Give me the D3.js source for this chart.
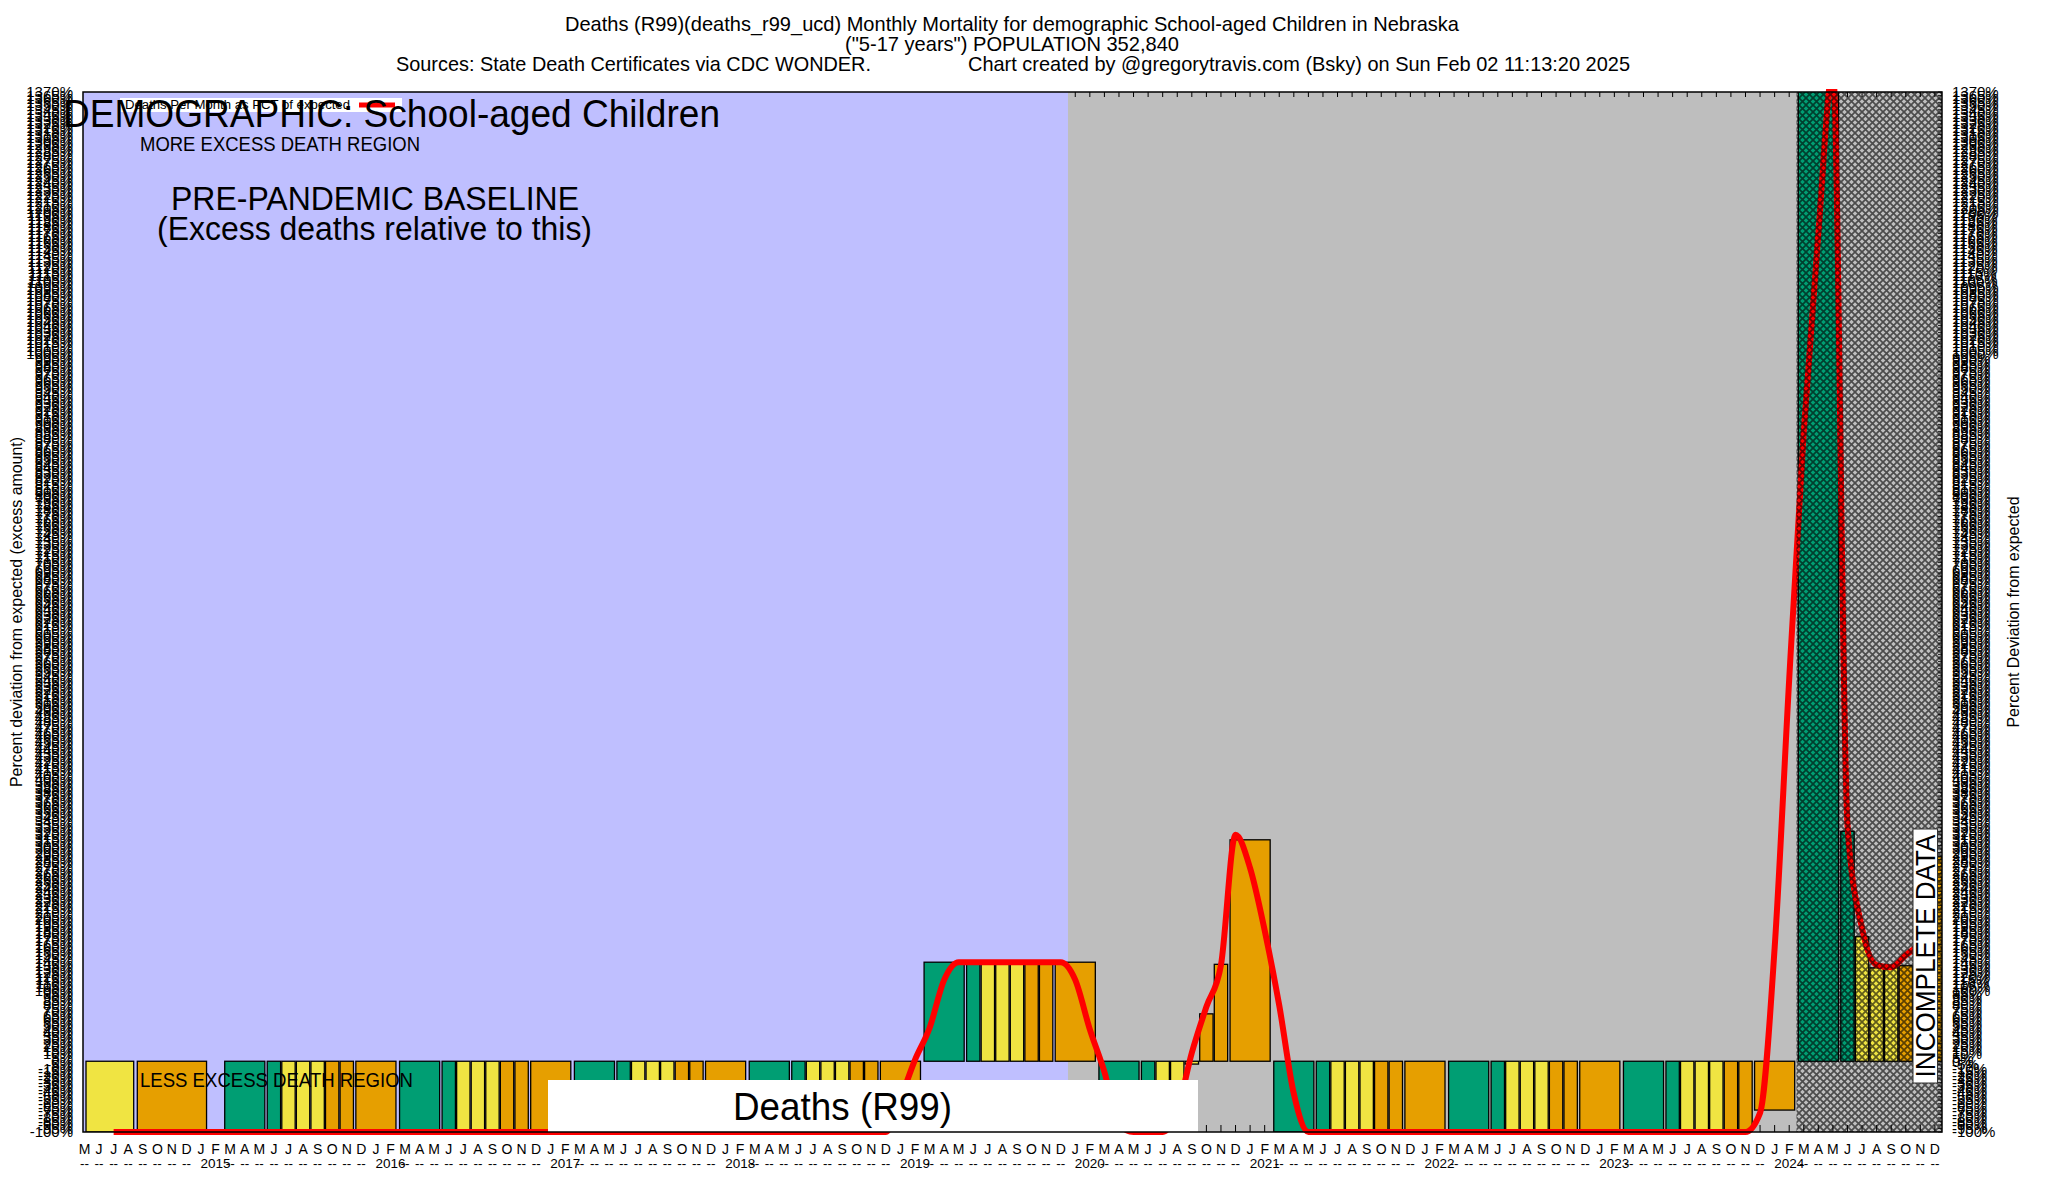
<!DOCTYPE html>
<html>
<head>
<meta charset="utf-8">
<script src="https://cdn.jsdelivr.net/npm/d3@7"></script>
<style>
  body { margin: 0; background: #ffffff; }
  svg { display: block; }
  text { font-family: "Liberation Sans", Arial, Helvetica, sans-serif; fill: #000; }
</style>
</head>
<body>
<svg id="chart" width="2048" height="1200"></svg>
<script>
// ---------------- DATA ----------------
const titleLines = [
  "Deaths (R99)(deaths_r99_ucd) Monthly Mortality for demographic School-aged Children in Nebraska",
  "(\"5-17 years\") POPULATION 352,840"
];
const sourceText = "Sources: State Death Certificates via CDC WONDER.";
const creditText = "Chart created by @gregorytravis.com (Bsky) on Sun Feb 02 11:13:20 2025";

// x categories: every month May 2014 .. Dec 2024
const firstMonth = "2014-05";
const lastMonth = "2024-12";
const monthLetters = ["J","F","M","A","M","J","J","A","S","O","N","D"];

// y ticks (percent deviation)
const yMin = -100, yMax = 1370, yStep = 5;

// Seasonal bar slots within a year (month numbers; 14 = February of next year)
const slotFrom   = [3, 6, 7, 8, 9, 10, 11, 12];
const slotTo     = [5, 6, 7, 8, 9, 10, 11, 14];
const slotSeason = ["spring","spring","summer","summer","summer","fall","fall","winter"];

const barYears = [2015, 2016, 2017, 2018, 2019, 2020, 2021, 2022, 2023, 2024];
const barValuesByYear = [
  [-100,-100,-100,-100,-100,-100,-100,-100], // 2015
  [-100,-100,-100,-100,-100,-100,-100,-100], // 2016
  [-100,-100,-100,-100,-100,-100,-100,-100], // 2017
  [-100,-100,-100,-100,-100,-100,-100,-100], // 2018
  [140, 140, 140, 140, 140, 140, 140, 140],  // 2019
  [-100,-100,-100,-100, -4,  67, 137, 313],  // 2020
  [-100,-100,-100,-100,-100,-100,-100,-100], // 2021
  [-100,-100,-100,-100,-100,-100,-100,-100], // 2022
  [-100,-100,-100,-100,-100,-100,-100, -69], // 2023
  [1450, 325, 176, 132, 132, 135, 135, 289]  // 2024
];
// first partial season (2014)
const earlyBarFrom   = ["2014-05", "2014-09"];
const earlyBarTo     = ["2014-08", "2015-01"];
const earlyBarValue  = [-100, -100];
const earlyBarSeason = ["summer", "winter"];

// Deaths per month as PCT of expected (red line), monthly from Jul 2014
const lineStart = "2014-07";
const lineValues = [
  -100,-100,-100,-100,-100,-100,                              // 2014 Jul-Dec
  -100,-100,-100,-100,-100,-100,-100,-100,-100,-100,-100,-100, // 2015
  -100,-100,-100,-100,-100,-100,-100,-100,-100,-100,-100,-100, // 2016
  -100,-100,-100,-100,-100,-100,-100,-100,-100,-100,-100,-100, // 2017
  -100,-100,-100,-100,-100,-100,-100,-100,-100,-100,-100,-100, // 2018
  -53, 2, 47, 115, 140, 140, 140, 140, 140, 140, 140, 140,     // 2019
  115, 45, -15, -90, -100, -100, -100, -70, 12, 77, 136, 320,  // 2020
  273, 185, 79, -46, -100,-100,-100,-100,-100,-100,-100,-100,  // 2021
  -100,-100,-100,-100,-100,-100,-100,-100,-100,-100,-100,-100, // 2022
  -100,-100,-100,-100,-100,-100,-100,-100,-100,-100,-100, -73, // 2023
  160, 540, 890, 1170, 1400, 334, 188, 136, 133, 150, 165      // 2024 Jan-Nov
];

const incompleteFrom = "2024-03";
const baselineEnd = "2019-12";

// ---------------- LAYOUT / STYLE ----------------
const plot = { left: 83, right: 1942, top: 92, bottom: 1132 };
const seasonColor = { spring: "#009e73", summer: "#f0e442", fall: "#e69f00", winter: "#e69f00" };
const FONT = "\"Liberation Sans\", Arial, Helvetica, sans-serif";

function monthIndex(str) {
  const [yy, mm] = str.split("-").map(Number);
  return (yy - 2014) * 12 + (mm - 5);
}
const nMonths = monthIndex(lastMonth) + 1;

const x = d3.scaleLinear().domain([0, nMonths - 1]).range([84.5, 1934.9]);
const step = x(1) - x(0);
const y = d3.scaleLinear().domain([yMin, yMax]).range([plot.bottom, plot.top]);

const svg = d3.select("#chart");
const defs = svg.append("defs");
defs.append("clipPath").attr("id", "plotClip").append("rect")
  .attr("x", plot.left).attr("y", plot.top)
  .attr("width", plot.right - plot.left).attr("height", plot.bottom - plot.top);
defs.append("clipPath").attr("id", "lineClip").append("rect")
  .attr("x", plot.left).attr("y", plot.top - 3)
  .attr("width", plot.right - plot.left).attr("height", plot.bottom - plot.top + 12);
const pat = defs.append("pattern").attr("id", "hatch")
  .attr("patternUnits", "userSpaceOnUse").attr("width", 7).attr("height", 7);
pat.append("path").attr("d", "M-1,-1L8,8M8,-1L-1,8")
  .attr("stroke", "#000").attr("stroke-width", 1.7).attr("stroke-opacity", 0.6).attr("fill", "none");

// gray plot background
svg.append("rect").attr("x", plot.left).attr("y", plot.top)
  .attr("width", plot.right - plot.left).attr("height", plot.bottom - plot.top)
  .attr("fill", "#bebebe");

// month ticks (top & bottom, inward)
const monthIdx = d3.range(nMonths);
svg.append("g").selectAll("line.t").data(monthIdx).join("line")
  .attr("x1", d => x(d)).attr("x2", d => x(d))
  .attr("y1", plot.top).attr("y2", plot.top + 5)
  .attr("stroke", "#000").attr("stroke-width", 1);
svg.append("g").selectAll("line.b").data(monthIdx).join("line")
  .attr("x1", d => x(d)).attr("x2", d => x(d))
  .attr("y1", plot.bottom - 7).attr("y2", plot.bottom)
  .attr("stroke", "#000").attr("stroke-width", 1);

// pre-pandemic baseline region
const baseEndX = x(monthIndex(baselineEnd) + 0.5);
svg.append("rect").attr("x", plot.left).attr("y", plot.top)
  .attr("width", baseEndX - plot.left).attr("height", plot.bottom - plot.top)
  .attr("fill", "#bfbfff");

// bars
const bars = [];
earlyBarFrom.forEach((f, i) => bars.push({
  from: monthIndex(f), to: monthIndex(earlyBarTo[i]), value: earlyBarValue[i], season: earlyBarSeason[i]
}));
barYears.forEach((yr, yi) => {
  slotFrom.forEach((sf, si) => {
    bars.push({
      from: (yr - 2014) * 12 + (sf - 5),
      to: (yr - 2014) * 12 + (slotTo[si] - 5),
      value: barValuesByYear[yi][si],
      season: slotSeason[si]
    });
  });
});
function barX0(d) {
  const inset = d.from === d.to ? 0.6 : 1.8;
  return Math.max(x(d.from) - step / 2 + inset, plot.left + 3);
}
function barX1(d) {
  const inset = d.from === d.to ? 0.6 : 1.8;
  return x(d.to) + step / 2 - inset;
}
svg.append("g").attr("clip-path", "url(#plotClip)")
  .selectAll("rect").data(bars).join("rect")
  .attr("x", barX0)
  .attr("width", d => barX1(d) - barX0(d))
  .attr("y", d => Math.min(y(0), y(d.value)))
  .attr("height", d => Math.abs(y(d.value) - y(0)))
  .attr("fill", d => seasonColor[d.season])
  .attr("stroke", "#000").attr("stroke-width", 1.3);

// red line
const lineStartIdx = monthIndex(lineStart);
const linePts = lineValues.map((v, i) => [lineStartIdx + i, v]);
svg.append("path").attr("clip-path", "url(#lineClip)")
  .datum(linePts)
  .attr("d", d3.line().x(d => x(d[0])).y(d => y(d[1])).curve(d3.curveMonotoneX))
  .attr("fill", "none").attr("stroke", "#ff0000").attr("stroke-width", 6)
  .attr("stroke-linejoin", "round");

// incomplete data hatch
const incX = x(monthIndex(incompleteFrom) - 0.5);
svg.append("rect").attr("x", incX).attr("y", plot.top)
  .attr("width", plot.right - incX).attr("height", plot.bottom - plot.top)
  .attr("fill", "url(#hatch)");

// y ticks on right border (inward)
const yTicks = d3.range(yMin, yMax + 1, yStep);
svg.append("g").selectAll("line").data(yTicks).join("line")
  .attr("x1", plot.right - 4).attr("x2", plot.right)
  .attr("y1", d => y(d)).attr("y2", d => y(d))
  .attr("stroke", "#000").attr("stroke-width", 0.8);

// annotation texts inside plot
svg.append("text").attr("x", 140).attr("y", 151)
  .attr("font-size", 19.5).attr("textLength", 280).attr("lengthAdjust", "spacingAndGlyphs")
  .text("MORE EXCESS DEATH REGION");
svg.append("text").attr("x", 375).attr("y", 210).attr("text-anchor", "middle")
  .attr("font-size", 34).attr("textLength", 408).attr("lengthAdjust", "spacingAndGlyphs")
  .text("PRE-PANDEMIC BASELINE");
svg.append("text").attr("x", 374.5).attr("y", 240).attr("text-anchor", "middle")
  .attr("font-size", 34).attr("textLength", 435).attr("lengthAdjust", "spacingAndGlyphs")
  .text("(Excess deaths relative to this)");
svg.append("text").attr("x", 140).attr("y", 1087)
  .attr("font-size", 19.5).attr("textLength", 273).attr("lengthAdjust", "spacingAndGlyphs")
  .text("LESS EXCESS DEATH REGION");

// series name box
svg.append("rect").attr("x", 548).attr("y", 1080).attr("width", 650).attr("height", 52).attr("fill", "#fff");
svg.append("text").attr("x", 733).attr("y", 1120)
  .attr("font-size", 39).attr("textLength", 219).attr("lengthAdjust", "spacingAndGlyphs")
  .text("Deaths (R99)");

// incomplete data label
svg.append("rect").attr("x", 1913).attr("y", 829).attr("width", 24.5).attr("height", 254)
  .attr("fill", "#fff").attr("stroke", "#333").attr("stroke-width", 1);
svg.append("text").attr("transform", "translate(1935,956) rotate(-90)")
  .attr("text-anchor", "middle")
  .attr("font-size", 27).attr("textLength", 243).attr("lengthAdjust", "spacingAndGlyphs")
  .text("INCOMPLETE DATA");

// plot border
svg.append("rect").attr("x", plot.left).attr("y", plot.top)
  .attr("width", plot.right - plot.left).attr("height", plot.bottom - plot.top)
  .attr("fill", "none").attr("stroke", "#000").attr("stroke-width", 1.5);

// y axes (dense labels, as in the reference)
const fmt = d => d + "%";
const yAxisL = svg.append("g").attr("transform", "translate(73,0)")
  .call(d3.axisLeft(y).tickValues(yTicks).tickFormat(fmt).tickSize(0).tickPadding(0));
yAxisL.select(".domain").remove();
yAxisL.attr("font-size", 15).attr("font-family", FONT);
const yAxisR = svg.append("g").attr("transform", "translate(1952,0)")
  .call(d3.axisRight(y).tickValues(yTicks).tickFormat(fmt).tickSize(0).tickPadding(0));
yAxisR.select(".domain").remove();
yAxisR.attr("font-size", 15).attr("font-family", FONT);

// x axis: month letters & year row
const months = d3.timeMonth.range(new Date(2014, 4, 1), new Date(2025, 0, 1));
svg.append("g").selectAll("text").data(months).join("text")
  .attr("x", (d, i) => x(i)).attr("y", 1154).attr("text-anchor", "middle")
  .attr("font-size", 14).text(d => monthLetters[d.getMonth()]);
svg.append("g").selectAll("text").data(months).join("text")
  .attr("x", (d, i) => x(i)).attr("y", 1168).attr("text-anchor", "middle")
  .attr("font-size", 13.5)
  .text(d => d.getMonth() === 0 ? "" : (d.getMonth() === 1 ? String(d.getFullYear()) : "--"));

// legend
svg.append("rect").attr("x", 120).attr("y", 98).attr("width", 282).attr("height", 14).attr("fill", "#fff");
svg.append("text").attr("x", 125).attr("y", 108.5)
  .attr("font-size", 12).attr("textLength", 225).attr("lengthAdjust", "spacingAndGlyphs")
  .text("Deaths Per Month as PCT of expected");
svg.append("line").attr("x1", 359).attr("x2", 395).attr("y1", 105).attr("y2", 105)
  .attr("stroke", "#ff0000").attr("stroke-width", 5);

// demographic label
svg.append("text").attr("x", 63).attr("y", 127)
  .attr("font-size", 39).attr("textLength", 657).attr("lengthAdjust", "spacingAndGlyphs")
  .text("DEMOGRAPHIC: School-aged Children");

// titles
svg.append("text").attr("x", 1012).attr("y", 31).attr("text-anchor", "middle")
  .attr("font-size", 21).attr("textLength", 894).attr("lengthAdjust", "spacingAndGlyphs")
  .text(titleLines[0]);
svg.append("text").attr("x", 1012).attr("y", 51).attr("text-anchor", "middle")
  .attr("font-size", 21).attr("textLength", 334).attr("lengthAdjust", "spacingAndGlyphs")
  .text(titleLines[1]);
svg.append("text").attr("x", 396).attr("y", 71)
  .attr("font-size", 21).attr("textLength", 475).attr("lengthAdjust", "spacingAndGlyphs")
  .text(sourceText);
svg.append("text").attr("x", 968).attr("y", 71)
  .attr("font-size", 21).attr("textLength", 662).attr("lengthAdjust", "spacingAndGlyphs")
  .text(creditText);

// axis titles
svg.append("text").attr("transform", "translate(22,612) rotate(-90)").attr("text-anchor", "middle")
  .attr("font-size", 17).attr("textLength", 350).attr("lengthAdjust", "spacingAndGlyphs")
  .text("Percent deviation from expected (excess amount)");
svg.append("text").attr("transform", "translate(2019,612) rotate(-90)").attr("text-anchor", "middle")
  .attr("font-size", 17).attr("textLength", 231).attr("lengthAdjust", "spacingAndGlyphs")
  .text("Percent Deviation from expected");
</script>
</body>
</html>
